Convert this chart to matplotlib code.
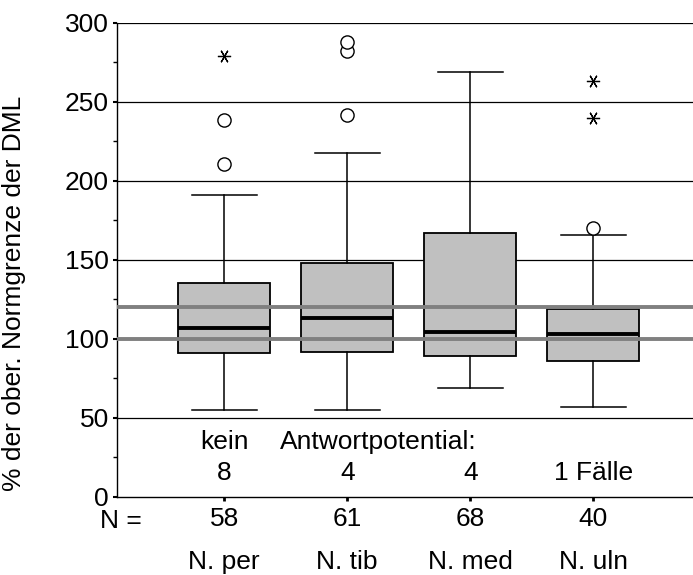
import numpy as np
import matplotlib
matplotlib.use("Agg")
import matplotlib.pyplot as plt

plt.rcParams['font.family'] = ['Liberation Sans', 'DejaVu Sans']

# data
nerves = ["N. per", "N. tib", "N. med", "N. uln"]
n_cases = [58, 61, 68, 40]
no_response = ["8", "4", "4", "1 Fälle"]
q1 = [91, 92, 89, 86]
med = [107, 113.5, 104.5, 103]
q3 = [135.5, 148, 167, 119]
whislo = [55, 55, 69, 57]
whishi = [191, 218, 269, 166]
outliers = [[211, 238.5], [242, 282, 288], [], [170.5]]
extremes = [[279], [], [], [240, 263]]
ref_lines = [100, 120]

stats = []
for i in range(len(nerves)):
    stats.append(dict(q1=q1[i], med=med[i], q3=q3[i], whislo=whislo[i],
                      whishi=whishi[i], fliers=[], label=nerves[i]))

fig = plt.figure(figsize=(6.93, 5.75), dpi=100)
ax = fig.add_axes([0.169, 0.1357, 0.831, 0.8243])

pos = np.arange(1, len(nerves) + 1)

# grid lines behind boxes
for y in [50, 150, 200, 250, 300]:
    ax.axhline(y, color="black", lw=0.9, zorder=1)

ax.bxp(stats, positions=pos, widths=0.75, patch_artist=True, showfliers=False,
       boxprops=dict(facecolor="#c0c0c0", edgecolor="black", lw=1.3),
       medianprops=dict(color="black", lw=2.8),
       whiskerprops=dict(color="black", lw=1.1),
       capprops=dict(color="black", lw=1.1),
       capwidths=0.53, zorder=2)

for i, p in enumerate(pos):
    if outliers[i]:
        ax.plot([p] * len(outliers[i]), outliers[i], "o", ms=9.5, mfc="white",
                mec="black", mew=1.0, zorder=4)
    if extremes[i]:
        ax.plot([p] * len(extremes[i]), extremes[i], marker=(6, 2, 90), ls="none",
                ms=9.5, mec="black", mew=0.9, zorder=4)

for y in ref_lines:
    ax.axhline(y, color="#808080", lw=2.8, zorder=3)

# text inside plot
fs = 19
ax.text(1, 35, "kein", ha="center", va="center", fontsize=fs)
ax.text(1.455, 35, "Antwortpotential:", ha="left", va="center", fontsize=fs)
for i, p in enumerate(pos):
    ax.text(p, 15, no_response[i], ha="center", va="center", fontsize=fs)

ax.set_xlim(0.13, 4.81)
ax.set_ylim(0, 300)
ax.set_yticks([0, 50, 100, 150, 200, 250, 300])
ax.set_yticks(np.arange(25, 300, 50), minor=True)
ax.tick_params(axis="y", which="major", length=3, width=1.5, pad=3, labelsize=fs)
ax.tick_params(axis="y", which="minor", length=3, width=1)
ax.set_xticks(pos)
ax.set_xticklabels([str(n) for n in n_cases], fontsize=fs)
ax.tick_params(axis="x", length=3, width=2, pad=4)

tr = ax.get_xaxis_transform()
ax.text(0.16, -0.05, "N =", transform=tr, ha="center", va="center", fontsize=fs)
for i, p in enumerate(pos):
    ax.text(p, -0.137, nerves[i], transform=tr, ha="center", va="center", fontsize=fs)

ax.set_ylabel("% der ober. Normgrenze der DML", fontsize=fs)
ax.yaxis.set_label_coords(-0.158, 0.43)

ax.spines["top"].set_visible(False)
ax.spines["right"].set_visible(False)
ax.spines["left"].set_linewidth(1)
ax.spines["bottom"].set_linewidth(1)

fig.savefig("out.png", dpi=100)
